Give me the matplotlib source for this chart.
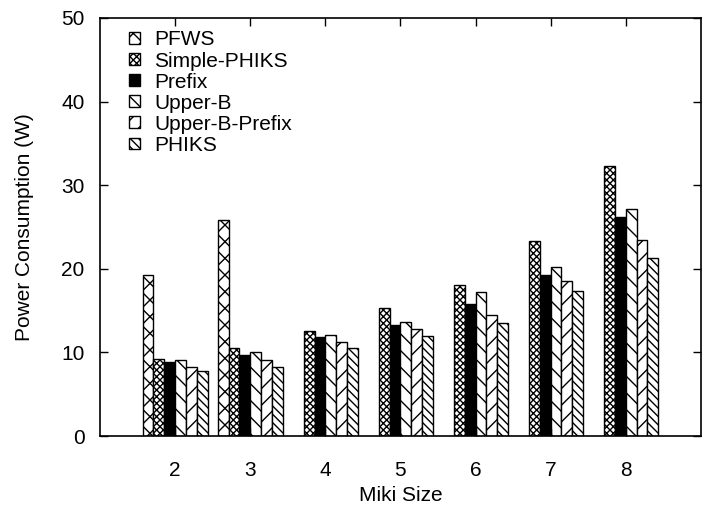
import numpy as np
import matplotlib
matplotlib.use('Agg')
import matplotlib.pyplot as plt

plt.rcParams['font.family'] = ['Liberation Sans', 'DejaVu Sans']
plt.rcParams['hatch.linewidth'] = 1.0

# 数据
sizes = [2, 3, 4, 5, 6, 7, 8]
series_names = ['PFWS', 'Simple-PHIKS', 'Prefix', 'Upper-B', 'Upper-B-Prefix', 'PHIKS']
pfws = [19.2, 25.8, np.nan, np.nan, np.nan, np.nan, np.nan]
simple_phiks = [9.2, 10.5, 12.6, 15.3, 18.1, 23.3, 32.3]
prefix = [8.8, 9.7, 11.9, 13.3, 15.8, 19.2, 26.2]
upper_b = [9.1, 10.0, 12.1, 13.6, 17.2, 20.2, 27.2]
upper_b_prefix = [8.2, 9.1, 11.2, 12.8, 14.5, 18.5, 23.5]
phiks = [7.8, 8.3, 10.5, 12.0, 13.5, 17.3, 21.3]

all_series = [pfws, simple_phiks, prefix, upper_b, upper_b_prefix, phiks]
hatches = ['xx', 'xxxxx', '', '\\\\', '//', '\\\\\\\\']
faces = ['white', 'white', 'black', 'white', 'white', 'white']

fig = plt.figure(figsize=(7.07, 5.07), dpi=100)
ax = fig.add_axes([0.1414, 0.140, 0.850, 0.8245])

w = 0.144
x = np.array(sizes, dtype=float)
for i, vals in enumerate(all_series):
    ax.bar(x + (i - 2.5) * w, vals, width=w, color=faces[i], edgecolor='black',
           hatch=hatches[i], linewidth=1.0, label=series_names[i])

ax.set_xlim(1, 9)
ax.set_ylim(0, 50)
ax.set_xticks(sizes)
ax.set_yticks(range(0, 51, 10))
ax.tick_params(direction='in', length=6, width=1, labelsize=15, top=True, right=True)
ax.tick_params(axis='y', pad=11)
ax.tick_params(axis='x', pad=18)
for s in ax.spines.values():
    s.set_linewidth(1.2)

ax.set_xlabel('Miki Size', fontsize=15, labelpad=4)
ax.set_ylabel('Power Consumption (W)', fontsize=15, labelpad=20)

ax.legend(loc='upper left', frameon=False, fontsize=15, handlelength=0.5, handleheight=0.5,
          handletextpad=0.7, labelspacing=0.1, borderaxespad=0.2, bbox_to_anchor=(0.028, 1.0))

fig.savefig('out.png', dpi=100)
